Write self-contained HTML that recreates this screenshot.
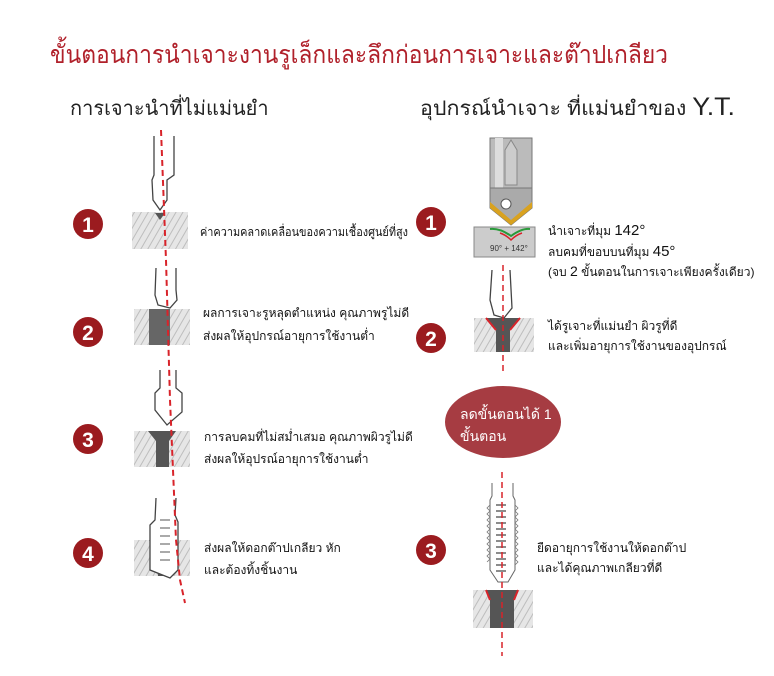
<!DOCTYPE html>
<html><head><meta charset="utf-8"><style>
html,body{margin:0;padding:0;background:#fff;width:774px;height:676px;overflow:hidden}
svg{display:block}
text{font-family:"Liberation Sans","Noto Sans CJK SC",sans-serif}
</style></head><body>
<svg width="774" height="676" viewBox="0 0 774 676" xmlns="http://www.w3.org/2000/svg">
<defs>
<pattern id="h" width="6" height="6" patternUnits="userSpaceOnUse" patternTransform="rotate(30)">
<rect width="6" height="6" fill="#e6e6e6"/><line x1="0" y1="0" x2="0" y2="6" stroke="#bdbdbd" stroke-width="2"/>
</pattern>
</defs>
<text x="50" y="63" font-size="25" fill="#b0202a" textLength="618" lengthAdjust="spacingAndGlyphs">ขั้นตอนการนำเจาะงานรูเล็กและลึกก่อนการเจาะและต๊าปเกลียว</text>
<text x="70" y="115" font-size="20" fill="#222">การเจาะนำที่ไม่แม่นยำ</text>
<text x="420" y="115" font-size="20" fill="#222" textLength="315" lengthAdjust="spacingAndGlyphs">อุปกรณ์นำเจาะ ที่แม่นยำของ <tspan font-size="25">Y.T.</tspan></text>

<g fill="#9b1b1f">
<circle cx="88" cy="224" r="15"/><circle cx="88" cy="332" r="15"/><circle cx="88" cy="439" r="15"/><circle cx="88" cy="553" r="15"/>
<circle cx="431" cy="222" r="15"/><circle cx="431" cy="338" r="15"/><circle cx="431" cy="550" r="15"/>
</g>
<g fill="#fff" font-size="21" font-weight="bold" text-anchor="middle">
<text x="88" y="232">1</text><text x="88" y="340">2</text><text x="88" y="447">3</text><text x="88" y="561">4</text>
<text x="431" y="230">1</text><text x="431" y="346">2</text><text x="431" y="558">3</text>
</g>

<rect x="132" y="212" width="56" height="37" fill="url(#h)"/>
<path d="M155 213 L165 213 L160 220Z" fill="#555"/>
<rect x="134" y="309" width="56" height="36" fill="url(#h)"/>
<rect x="149" y="309" width="21" height="36" fill="#666"/>
<rect x="134" y="431" width="56" height="36" fill="url(#h)"/>
<path d="M148 431 L176 431 L169 441 L169 467 L156 467 L156 441Z" fill="#555"/>
<rect x="134" y="540" width="56" height="36" fill="url(#h)"/>
<path d="M149 540 L174 540 L170 548 L173 576 L158 576 L154 548Z" fill="#555"/>

<g fill="#fff" stroke="#444" stroke-width="1.3">
<path d="M154 136 L154 175 L152 180 L153 200 L160 210 L167 200 L167 180 L174 175 L174 136"/>
<path d="M156 268 L155 295 L158 305 L170 308 L177 300 L176 290 L176 268"/>
<path d="M160 370 L160 388 L155 393 L155 410 L167 425 L182 412 L182 393 L176 388 L176 370"/>
<path d="M156 498 L155 520 L150 525 L150 570 L170 578 L178 570 L178 522 L175 515 L176 498"/>
</g>
<g stroke="#555" stroke-width="1" fill="none">
<path d="M160 520 l10 0 M160 528 l10 0 M160 536 l10 0 M160 544 l10 0 M160 552 l10 0 M160 560 l10 0"/>
</g>
<path d="M161 130 L166 260 L170 400 L176 540 L180 580 L185 603" stroke="#d8232a" stroke-width="2" stroke-dasharray="6,4" fill="none"/>

<g font-size="12" fill="#111">
<text x="200" y="236" textLength="208" lengthAdjust="spacingAndGlyphs">ค่าความคลาดเคลื่อนของความเชื้องศูนย์ที่สูง</text>
<text x="203" y="317">ผลการเจาะรูหลุดตำแหน่ง คุณภาพรูไม่ดี</text>
<text x="203" y="340">ส่งผลให้อุปกรณ์อายุการใช้งานต่ำ</text>
<text x="204" y="441">การลบคมที่ไม่สม่ำเสมอ คุณภาพผิวรูไม่ดี</text>
<text x="204" y="463">ส่งผลให้อุปรณ์อายุการใช้งานต่ำ</text>
<text x="204" y="552">ส่งผลให้ดอกต๊าปเกลียว หัก</text>
<text x="204" y="574">และต้องทิ้งชิ้นงาน</text>
</g>

<rect x="490" y="138" width="42" height="50" fill="#bbb" stroke="#777"/>
<rect x="495" y="138" width="8" height="50" fill="#ddd"/>
<path d="M490 188 L490 208 L511 225 L532 208 L532 188Z" fill="#aaa" stroke="#777"/>
<path d="M490 208 L511 225 L532 208 L532 202 L511 220 L490 202Z" fill="#d9a21f"/>
<path d="M505 150 L511 140 L517 150 L517 185 L505 185Z" fill="#ccc" stroke="#888"/>
<circle cx="506" cy="204" r="5" fill="#fff" stroke="#555"/>
<rect x="474" y="227" width="61" height="30" fill="#ccc" stroke="#888"/>
<path d="M490 229 Q500 228 511 236 Q522 228 530 229" stroke="#2a9a3a" stroke-width="2" fill="none"/>
<path d="M500 233 Q506 235 511 240 Q516 235 522 233" stroke="#d8232a" stroke-width="1.5" fill="none"/>
<text x="490" y="251" font-size="8" fill="#333">90° + 142°</text>
<g font-size="12" fill="#111">
<text x="548" y="235">นำเจาะที่มุม <tspan font-size="15">142°</tspan></text>
<text x="548" y="256">ลบคมที่ขอบบนที่มุม <tspan font-size="15">45°</tspan></text>
<text x="548" y="276">(จบ <tspan font-size="14">2</tspan> ขั้นตอนในการเจาะเพียงครั้งเดียว)</text>
</g>

<rect x="474" y="318" width="60" height="34" fill="url(#h)"/>
<path d="M486 318 L520 318 L510 330 L510 352 L496 352 L496 330Z" fill="#555"/>
<path d="M486 318 L496 330 M520 318 L510 330" stroke="#d8232a" stroke-width="2"/>
<path d="M492 270 L490 300 L494 315 L504 318 L512 308 L510 270" fill="#fff" stroke="#444" stroke-width="1.3"/>
<line x1="503" y1="265" x2="503" y2="375" stroke="#d8232a" stroke-width="1.5" stroke-dasharray="6,4"/>
<g font-size="12" fill="#111">
<text x="548" y="330">ได้รูเจาะที่แม่นยำ ผิวรูที่ดี</text>
<text x="548" y="350">และเพิ่มอายุการใช้งานของอุปกรณ์</text>
</g>

<ellipse cx="503" cy="422" rx="58" ry="36" fill="#a63c42"/>
<text x="460" y="419" font-size="14" fill="#fff">ลดขั้นตอนได้ 1</text>
<text x="460" y="441" font-size="14" fill="#fff">ขั้นตอน</text>

<path d="M492 483 L492 496 L490 500 L490 570 L498 582 L508 582 L515 570 L515 500 L513 496 L513 483" fill="#fff" stroke="#666"/>
<path d="M490 505 l-3 3 l3 3 l-3 3 l3 3 l-3 3 l3 3 l-3 3 l3 3 l-3 3 l3 3 l-3 3 l3 3 l-3 3 l3 3 l-3 3 l3 3 l-3 3 l3 3 l-3 3 M515 505 l3 3 l-3 3 l3 3 l-3 3 l3 3 l-3 3 l3 3 l-3 3 l3 3 l-3 3 l3 3 l-3 3 l3 3 l-3 3 l3 3 l-3 3 l3 3 l-3 3 l3 3 l-3 3" stroke="#777" fill="none" stroke-width="0.8"/>
<g stroke="#666" stroke-width="1.5"><path d="M496 505 h10 M496 511 h10 M496 517 h10 M496 523 h10 M496 529 h10 M496 535 h10 M496 541 h10 M496 547 h10 M496 553 h10 M496 559 h10 M496 565 h10 M496 571 h10"/></g>
<rect x="473" y="590" width="60" height="38" fill="url(#h)"/>
<path d="M486 590 L518 590 L514 600 L514 628 L490 628 L490 600Z" fill="#555"/>
<path d="M486 590 L490 600 M518 590 L514 600" stroke="#d8232a" stroke-width="2"/>
<line x1="502" y1="472" x2="502" y2="656" stroke="#d8232a" stroke-width="1.5" stroke-dasharray="6,4"/>
<g font-size="12" fill="#111">
<text x="537" y="552">ยืดอายุการใช้งานให้ดอกต๊าป</text>
<text x="537" y="572">และได้คุณภาพเกลียวที่ดี</text>
</g>
</svg>
</body></html>
